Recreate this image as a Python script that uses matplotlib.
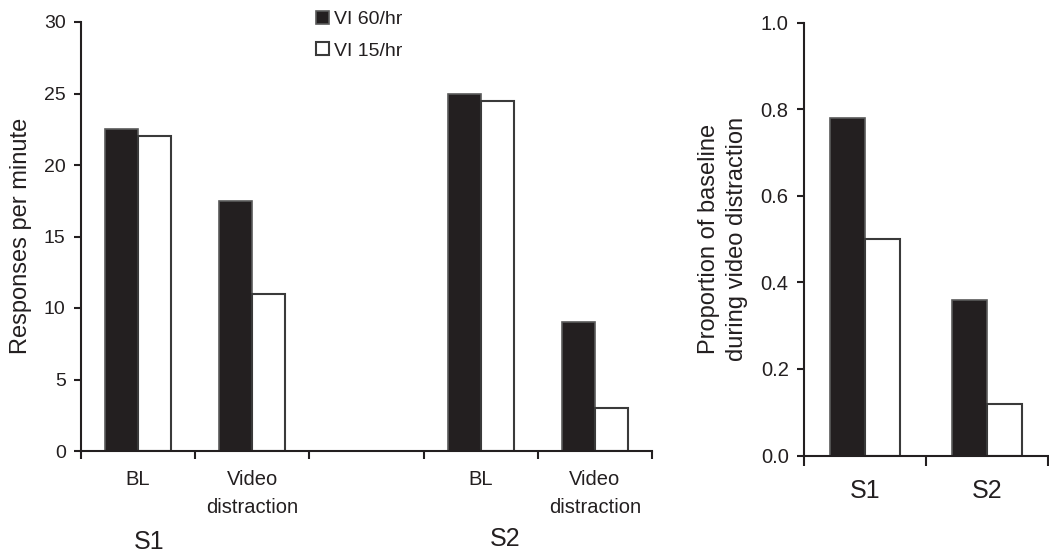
import matplotlib
matplotlib.use('Agg')
import matplotlib.pyplot as plt
from matplotlib.patches import Patch
from matplotlib.transforms import blended_transform_factory

# responses per minute, left panel (S1 BL, S1 video, gap, S2 BL, S2 video)
conditions = ['BL', 'Video\ndistraction', '', 'BL', 'Video\ndistraction']
vi60_rate = [22.5, 17.5, 0, 25, 9]
vi15_rate = [22, 11, 0, 24.5, 3]
subjects = ['S1', 'S2']

# proportion of baseline during video distraction, right panel
vi60_prop = [0.78, 0.36]
vi15_prop = [0.50, 0.12]

series_names = ['VI 60/hr', 'VI 15/hr']

plt.rcParams['font.family'] = ['Liberation Sans', 'DejaVu Sans']
ink = '#231f20'
plt.rcParams['text.color'] = ink
plt.rcParams['axes.edgecolor'] = ink
plt.rcParams['xtick.color'] = ink
plt.rcParams['ytick.color'] = ink

black_fill = '#231f20'
black_edge = '#5a5a5a'
white_edge = '#3a3a3a'
w = 0.29

fig = plt.figure(figsize=(10.49, 5.56), dpi=100)

# 左边的图
ax = fig.add_axes([81 / 1049, 1 - 451 / 556, (652 - 81) / 1049, (451 - 22) / 556])
pos = list(range(len(conditions)))
for i in pos:
    if conditions[i] == '':
        continue
    ax.bar(i - w / 2, vi60_rate[i], w, color=black_fill, edgecolor=black_edge, linewidth=1.2)
    ax.bar(i + w / 2, vi15_rate[i], w, color='white', edgecolor=white_edge, linewidth=1.5)
ax.set_xlim(-0.5, 4.5)
ax.set_ylim(0, 30)
ax.set_yticks([0, 5, 10, 15, 20, 25, 30])
ax.set_xticks([p - 0.5 for p in pos] + [4.5])
ax.set_xticklabels([])
ax.set_xticks(pos, minor=True)
ax.set_xticklabels(conditions, minor=True, fontsize=14.5, linespacing=1.6)
ax.tick_params(axis='x', which='minor', length=0, pad=14)
ax.tick_params(axis='x', which='major', length=6, width=1.5, direction='out')
ax.tick_params(axis='y', length=5, width=1.5, labelsize=14, pad=6)
ax.spines['top'].set_visible(False)
ax.spines['right'].set_visible(False)
ax.spines['left'].set_linewidth(1.5)
ax.spines['bottom'].set_linewidth(1.5)

tr = blended_transform_factory(ax.transData, ax.transAxes)
ax.text(0.10, -0.212, subjects[0], transform=tr, ha='center', va='center', fontsize=18)
ax.text(3.21, -0.205, subjects[1], transform=tr, ha='center', va='center', fontsize=18)

fig.text(21 / 1049, 1 - 236 / 556, 'Responses per minute', rotation=90,
         ha='center', va='center', fontsize=17)

handles = [Patch(facecolor=black_fill, edgecolor=black_edge, linewidth=1.2),
           Patch(facecolor='white', edgecolor=white_edge, linewidth=1.5)]
fig.legend(handles, series_names, loc='upper left', bbox_to_anchor=(316 / 1049, 1 - 11 / 556),
           frameon=False, fontsize=14, handlelength=0.68, handleheight=0.68,
           handletextpad=0.25, labelspacing=0.7, borderpad=0, borderaxespad=0)

# 右边的图
ax2 = fig.add_axes([804 / 1049, 1 - 455.5 / 556, (1048 - 804) / 1049, (455.5 - 22.7) / 556])
xs = list(range(len(subjects)))
ax2.bar([x - w / 2 for x in xs], vi60_prop, w, color=black_fill, edgecolor=black_edge, linewidth=1.2)
ax2.bar([x + w / 2 for x in xs], vi15_prop, w, color='white', edgecolor=white_edge, linewidth=1.5)
ax2.set_xlim(-0.5, 1.5)
ax2.set_ylim(0, 1.0)
ax2.set_yticks([0, 0.2, 0.4, 0.6, 0.8, 1.0])
ax2.set_yticklabels(['0.0', '0.2', '0.4', '0.6', '0.8', '1.0'])
ax2.set_xticks([-0.5, 0.5, 1.5])
ax2.set_xticklabels([])
ax2.set_xticks(xs, minor=True)
ax2.set_xticklabels(subjects, minor=True, fontsize=18)
ax2.tick_params(axis='x', which='minor', length=0, pad=17)
ax2.tick_params(axis='x', which='major', length=7, width=1.5, direction='out')
ax2.tick_params(axis='y', length=5, width=1.5, labelsize=14.5, pad=6)
ax2.spines['top'].set_visible(False)
ax2.spines['right'].set_visible(False)
ax2.spines['left'].set_linewidth(1.5)
ax2.spines['bottom'].set_linewidth(1.5)

fig.text(723 / 1049, 1 - 239 / 556, 'Proportion of baseline\nduring video distraction',
         rotation=90, ha='center', va='center', fontsize=17, linespacing=1.35)

plt.savefig('out.png', dpi=100)
